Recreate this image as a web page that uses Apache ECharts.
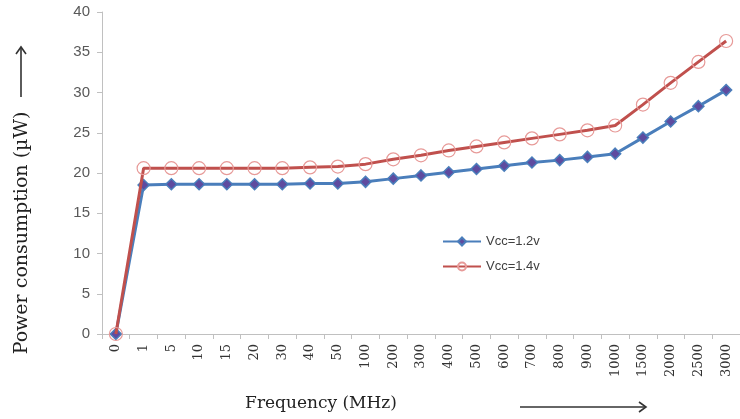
<!DOCTYPE html>
<html><head><meta charset="utf-8">
<script src="https://cdn.jsdelivr.net/npm/echarts@6/dist/echarts.min.js"></script>
<style>html,body{margin:0;padding:0;background:#fff}#c{width:740px;height:419px}</style>
</head><body><div id="c"></div>
<script>
const categories = ['0','1','5','10','15','20','30','40','50','100','200','300','400','500','600','700','800','900','1000','1500','2000','2500','3000'];
const vcc12 = [0, 18.5, 18.6, 18.6, 18.6, 18.6, 18.6, 18.7, 18.7, 18.9, 19.3, 19.7, 20.1, 20.5, 20.9, 21.3, 21.6, 22.0, 22.4, 24.4, 26.4, 28.3, 30.3];
const vcc14 = [0, 20.6, 20.6, 20.6, 20.6, 20.6, 20.6, 20.7, 20.8, 21.1, 21.7, 22.2, 22.8, 23.3, 23.8, 24.3, 24.8, 25.3, 25.9, 28.5, 31.2, 33.8, 36.4];
const yTicks = {min: 0, max: 40, interval: 5};
const seriesNames = ['Vcc=1.2v', 'Vcc=1.4v'];
const xTitle = 'Frequency (MHz)';
const yTitle = 'Power consumption (\u00b5W)';

const chart = echarts.init(document.getElementById('c'), null, {renderer: 'canvas'});
chart.setOption({
  animation: false,
  backgroundColor: '#fff',
  grid: {left: 102, right: -12, top: 12, bottom: 85, containLabel: false},
  legend: {
    orient: 'vertical', left: 437, top: 230, itemGap: 12,
    itemWidth: 38, itemHeight: 10,
    textStyle: {fontFamily: 'Liberation Sans', fontSize: 13, color: '#404040'},
    data: seriesNames
  },
  xAxis: {
    type: 'category', data: categories, boundaryGap: true,
    name: xTitle, nameLocation: 'middle', nameGap: 61,
    nameTextStyle: {fontFamily: 'DejaVu Serif', fontSize: 17, color: '#222', padding: [0, 200, 0, 0]},
    axisLine: {lineStyle: {color: '#c0c0c0', width: 1}},
    axisTick: {show: true, interval: 0, length: 5, lineStyle: {color: '#c0c0c0'}},
    axisLabel: {interval: 0, rotate: 90, margin: 10, fontFamily: 'DejaVu Serif', fontSize: 13, color: '#333'},
    splitLine: {show: false}
  },
  yAxis: {
    type: 'value', min: yTicks.min, max: yTicks.max, interval: yTicks.interval,
    axisLine: {show: true, lineStyle: {color: '#c0c0c0', width: 1}},
    axisTick: {show: true, length: 5, lineStyle: {color: '#c0c0c0'}},
    axisLabel: {fontFamily: 'Liberation Sans', fontSize: 15, color: '#595959', margin: 12},
    splitLine: {show: false}
  },
  series: [
    {
      name: seriesNames[0], type: 'line', data: vcc12, z: 3,
      symbol: 'diamond', symbolSize: 11,
      lineStyle: {color: '#4a7ebb', width: 3},
      itemStyle: {color: '#5e4b9f', borderColor: '#4a7ebb', borderWidth: 1.5}
    },
    {
      name: seriesNames[1], type: 'line', data: vcc14, z: 4,
      symbol: 'circle', symbolSize: 13,
      lineStyle: {color: '#c0504d', width: 3},
      itemStyle: {color: 'rgba(255,255,255,0)', borderColor: '#e79a98', borderWidth: 1.2}
    }
  ],
  graphic: [
    {type: 'text', x: 22, y: 233, rotation: Math.PI / 2,
     style: {text: yTitle, fontFamily: 'DejaVu Serif', fontSize: 19, fill: '#222', align: 'center', verticalAlign: 'middle'}},
    {type: 'line', shape: {x1: 520, y1: 407, x2: 646, y2: 407}, style: {stroke: '#333', lineWidth: 1.6}},
    {type: 'polyline', shape: {points: [[639, 402], [646, 407], [639, 412]]}, style: {stroke: '#333', lineWidth: 1.6, fill: null}},
    {type: 'line', shape: {x1: 21, y1: 97, x2: 21, y2: 47}, style: {stroke: '#333', lineWidth: 1.6}},
    {type: 'polyline', shape: {points: [[16, 54], [21, 47], [26, 54]]}, style: {stroke: '#333', lineWidth: 1.6, fill: null}}
  ]
});
</script></body></html>
